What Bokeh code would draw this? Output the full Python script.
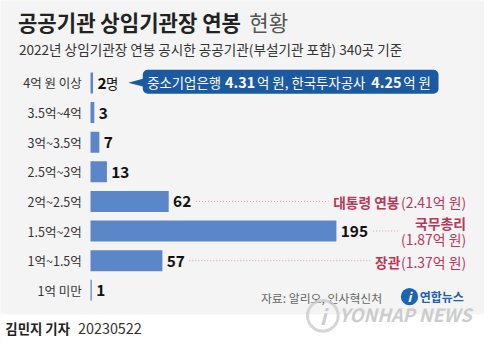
from bokeh.plotting import figure
from bokeh.models import Range1d, BoxAnnotation
from bokeh.core.properties import value
from bokeh.embed import file_html
from bokeh.resources import INLINE

# ---- data ----
categories = ["4억 원 이상", "3.5억~4억", "3억~3.5억", "2.5억~3억", "2억~2.5억", "1.5억~2억", "1억~1.5억", "1억 미만"]
counts = [2, 3, 7, 13, 62, 195, 57, 1]
rows = list(range(len(categories)))

title_main = "공공기관 상임기관장 연봉"
title_rest = "현황"
subtitle = "2022년 상임기관장 연봉 공시한 공공기관(부설기관 포함) 340곳 기준"
source = "자료: 알리오, 인사혁신처"
byline = "김민지 기자"
date = "20230522"

FONT = value("Noto Sans CJK KR")
S = 0.96  # font scale (reference is 500 px wide, figure 484)
def fs(v):
    return f"{v * S:.1f}px"

# helpers: reference pixel coordinates -> data units
X0, K = 93.0, 1.3026
Y0, R = 86.3, 31.0
def ux(xr):
    return (xr - X0) / K
def uy(yr):
    return (yr - Y0) / R

p = figure(width=484, height=343, output_backend="svg", toolbar_location=None,
           x_range=Range1d(ux(0), ux(500)), y_range=Range1d(uy(359), uy(0)),
           x_axis_type=None, y_axis_type=None, min_border=0)
p.grid.visible = False
p.outline_line_color = None
p.background_fill_color = "#f4f4f4"
p.border_fill_color = "white"

# white strip at the bottom
p.quad(left=ux(-5), right=ux(505), top=uy(328.5), bottom=uy(365), fill_color="white", line_color=None)

# bars
p.hbar(y=rows, left=0, right=counts, height=0.71, fill_color="#5b87c8", line_color=None)

# category labels
p.text(x=[ux(84)] * len(rows), y=rows, text=categories, text_font=FONT, text_font_size=fs(13),
       text_color="#333333", text_align="right", text_baseline="middle")

# value labels
p.text(x=[c + 4.5 / K for c in counts], y=rows, text=[str(c) for c in counts], text_font=FONT,
       text_font_size=fs(16), text_font_style="bold", text_color="#111111",
       text_align="left", text_baseline="middle")
p.text(x=[ux(109)], y=[rows[0]], text=["명"], text_font=FONT, text_font_size=fs(14),
       text_color="#111111", text_align="left", text_baseline="middle")

# title / subtitle
p.text(x=[ux(18)], y=[uy(23)], text=[title_main], text_font=FONT, text_font_size=fs(22),
       text_font_style="bold", text_color="#222222", text_baseline="middle")
p.text(x=[ux(257)], y=[uy(23)], text=[title_rest], text_font=FONT, text_font_size=fs(22),
       text_color="#555555", text_baseline="middle")
p.text(x=[ux(19)], y=[uy(50.5)], text=[subtitle], text_font=FONT, text_font_size=fs(14.2),
       text_color="#333333", text_baseline="middle")

# callout
box = BoxAnnotation(left=ux(147), right=ux(452.5), top=uy(72.5), bottom=uy(97.5),
                    fill_color="#1b5aa0", fill_alpha=1.0, line_color=None,
                    border_radius=5, level="underlay")
p.add_layout(box)
p.patch(x=[ux(132), ux(149), ux(149)], y=[uy(86), uy(81.5), uy(90.5)], fill_color="#1b5aa0", line_color=None)
cy = uy(85.5)
segs = [(151.5, "중소기업은행", "normal", 14.0),
        (232, "4.31", "bold", 15.0),
        (265, "억 원, 한국투자공사", "normal", 14.0),
        (383, "4.25", "bold", 15.0),
        (416, "억 원", "normal", 14.0)]
for xr, t, st, f in segs:
    p.text(x=[ux(xr)], y=[cy], text=[t], text_font=FONT, text_font_size=fs(f), text_font_style=st,
           text_color="white", text_baseline="middle")

# leader lines
RED = "#b8385a"
LEAD = "#d99aab"
p.line(x=[ux(202), ux(339)], y=[4, 4], line_color=LEAD, line_dash="1 2", line_width=1)
p.line(x=[ux(385), ux(411)], y=[5, 5], line_color=LEAD, line_dash="1 2", line_width=1)
p.line(x=[ux(195), ux(382)], y=[6, 6], line_color=LEAD, line_dash="1 2", line_width=1)

# red annotations
p.text(x=[ux(412)], y=[uy(211)], text=["대통령 연봉"], text_font=FONT, text_font_size=fs(14.3),
       text_font_style="bold", text_color=RED, text_align="right", text_baseline="middle")
p.text(x=[ux(481)], y=[uy(211)], text=["(2.41억 원)"], text_font=FONT, text_font_size=fs(14.5),
       text_color=RED, text_align="right", text_baseline="middle")
p.text(x=[ux(481)], y=[uy(233)], text=["국무총리"], text_font=FONT, text_font_size=fs(14.5),
       text_font_style="bold", text_color=RED, text_align="right", text_baseline="middle")
p.text(x=[ux(481)], y=[uy(250)], text=["(1.87억 원)"], text_font=FONT, text_font_size=fs(14.5),
       text_color=RED, text_align="right", text_baseline="middle")
p.text(x=[ux(413)], y=[uy(273.5)], text=["장관"], text_font=FONT, text_font_size=fs(14.3),
       text_font_style="bold", text_color=RED, text_align="right", text_baseline="middle")
p.text(x=[ux(481)], y=[uy(273.5)], text=["(1.37억 원)"], text_font=FONT, text_font_size=fs(14.5),
       text_color=RED, text_align="right", text_baseline="middle")

# source
p.text(x=[ux(269)], y=[uy(311)], text=[source], text_font=FONT, text_font_size=fs(12.4),
       text_color="#666666", text_baseline="middle")

# logo
p.scatter(x=[ux(422.5)], y=[uy(310)], size=18 * S, marker="circle", fill_color="#1d63b8", line_color=None)
p.text(x=[ux(422.5)], y=[uy(310)], text=["i"], text_font=FONT, text_font_size=fs(13),
       text_font_style="bold italic", text_color="white", text_align="center", text_baseline="middle")
p.text(x=[ux(433)], y=[uy(310)], text=["연합뉴스"], text_font=FONT, text_font_size=fs(12.5),
       text_font_style="bold", text_color="#1d5fb0", text_baseline="middle")

# watermark
p.scatter(x=[ux(333)], y=[uy(330)], size=32 * S, marker="circle", fill_color=None,
          line_color="#cccccc", line_width=3, line_alpha=0.8)
p.text(x=[ux(333)], y=[uy(330)], text=["i"], text_font=FONT, text_font_size=fs(22),
       text_font_style="bold italic", text_color="#cccccc", text_align="center", text_baseline="middle")
p.text(x=[ux(350)], y=[uy(328)], text=["YONHAP NEWS"], text_font=FONT, text_font_size=fs(19),
       text_font_style="bold italic", text_color="#cccccc", text_baseline="middle")

# footer
p.text(x=[ux(5)], y=[uy(343)], text=[byline], text_font=FONT, text_font_size=fs(14),
       text_font_style="bold", text_color="#222222", text_baseline="middle")
p.text(x=[ux(80)], y=[uy(343)], text=[date], text_font=FONT, text_font_size=fs(15),
       text_color="#333333", text_baseline="middle")

open("out.html", "w").write(file_html(p, INLINE))
